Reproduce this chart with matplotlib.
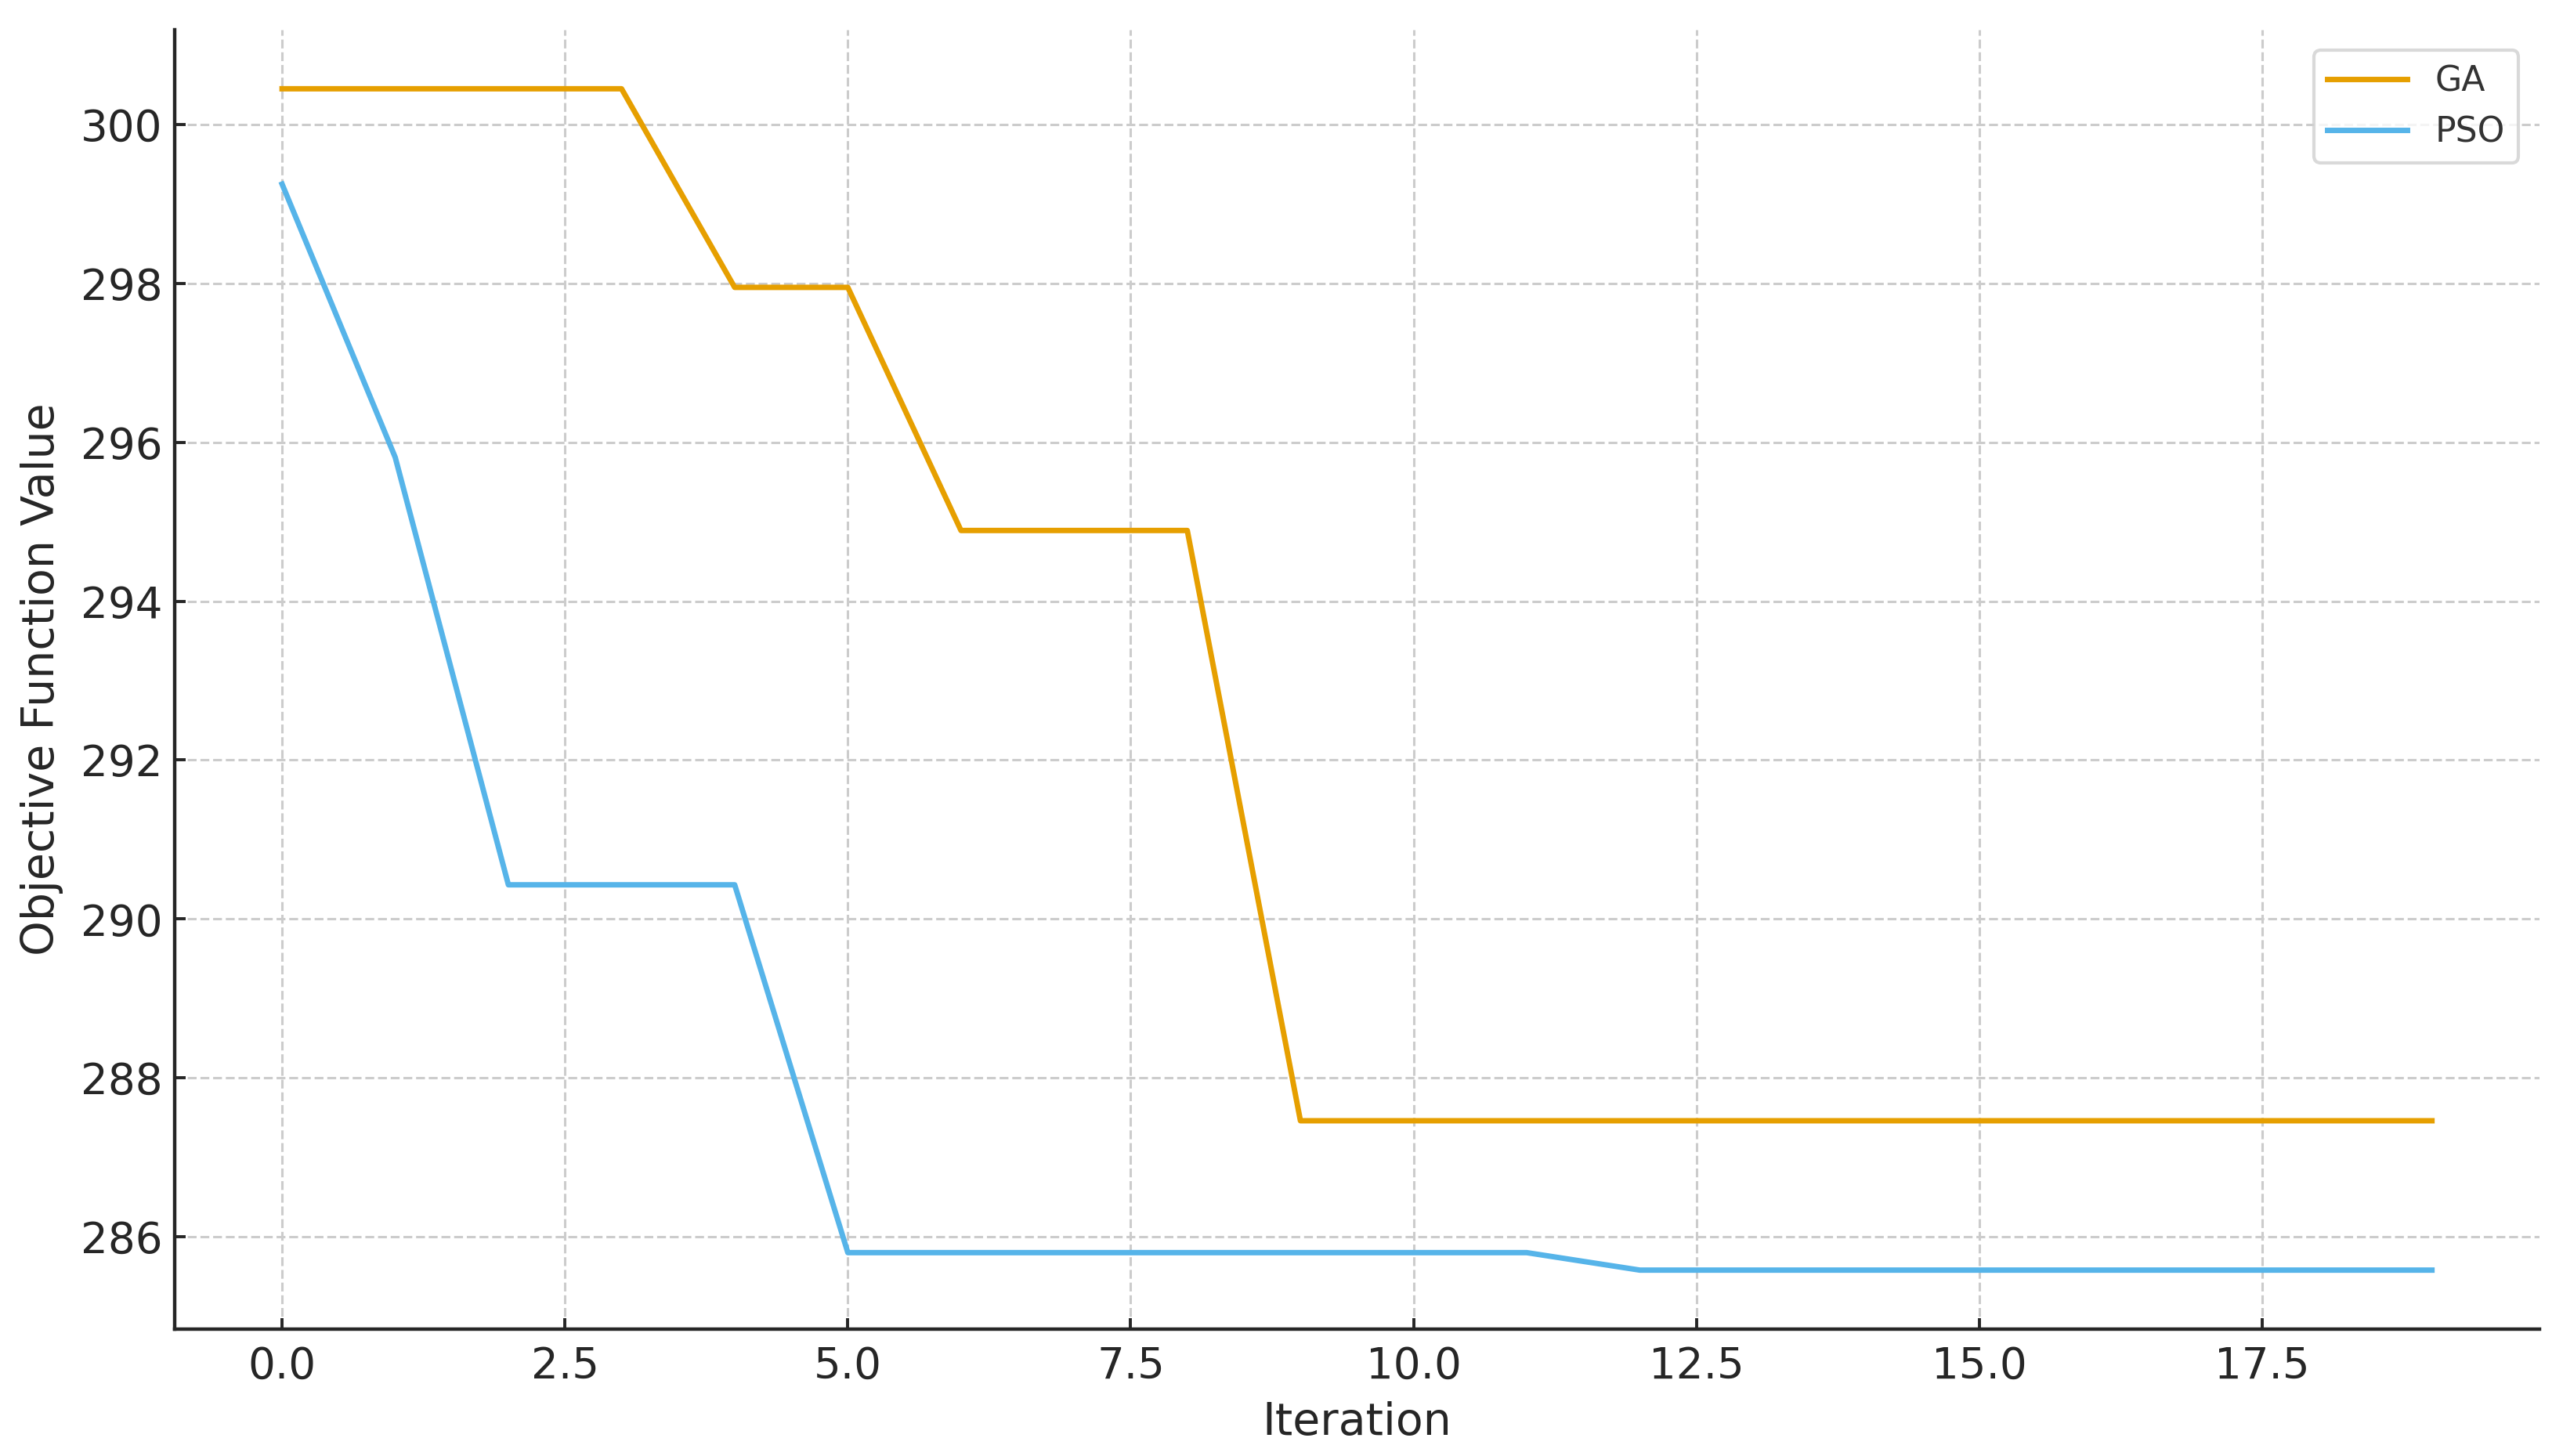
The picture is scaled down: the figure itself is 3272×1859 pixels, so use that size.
import matplotlib
matplotlib.use("Agg")
import matplotlib.pyplot as plt
import numpy as np

iterations = list(range(20))
ga_values = [300.45, 300.45, 300.45, 300.45, 297.95, 297.95, 294.89, 294.89, 294.89,
             287.46, 287.46, 287.46, 287.46, 287.46, 287.46, 287.46, 287.46, 287.46,
             287.46, 287.46]
pso_values = [299.25, 295.81, 290.43, 290.43, 290.43, 285.80, 285.80, 285.80, 285.80,
              285.80, 285.80, 285.80, 285.58, 285.58, 285.58, 285.58, 285.58, 285.58,
              285.58, 285.58]
series_names = ["GA", "PSO"]
series_colors = ["#E69F00", "#56B4E9"]

plt.rcParams['font.family'] = ['DejaVu Sans']
fig = plt.figure(figsize=(16.365, 9.295), dpi=200)
ax = fig.add_axes([0.0681, 0.0871, 0.9224, 0.8925])

for name, vals, col in zip(series_names, [ga_values, pso_values], series_colors):
    ax.plot(iterations, vals, color=col, lw=2.5, label=name)

ax.grid(True, linestyle='--', color='#cccccc', linewidth=1.1)
ax.set_axisbelow(True)
for s in ['top', 'right']:
    ax.spines[s].set_visible(False)
for s in ['left', 'bottom']:
    ax.spines[s].set_linewidth(1.6)
    ax.spines[s].set_color('#262626')

ax.tick_params(axis='both', direction='in', length=5, width=1.4, colors='#262626',
               labelsize=19.7, labelcolor='#262626')
ax.tick_params(axis='x', pad=7.5)
ax.tick_params(axis='y', pad=5.5)
ax.set_xlabel("Iteration", fontsize=20.5, color='#262626', labelpad=6)
ax.set_ylabel("Objective Function Value", fontsize=20.5, color='#262626', labelpad=8)

leg = ax.legend(loc='upper right', fontsize=15.9, handlelength=2.3, frameon=True,
                fancybox=True, borderaxespad=0.6)
leg.get_frame().set_edgecolor('#d0d0d0')
leg.get_frame().set_linewidth(1.5)
for t in leg.get_texts():
    t.set_color('#333333')

fig.savefig("out.png", dpi=200)
